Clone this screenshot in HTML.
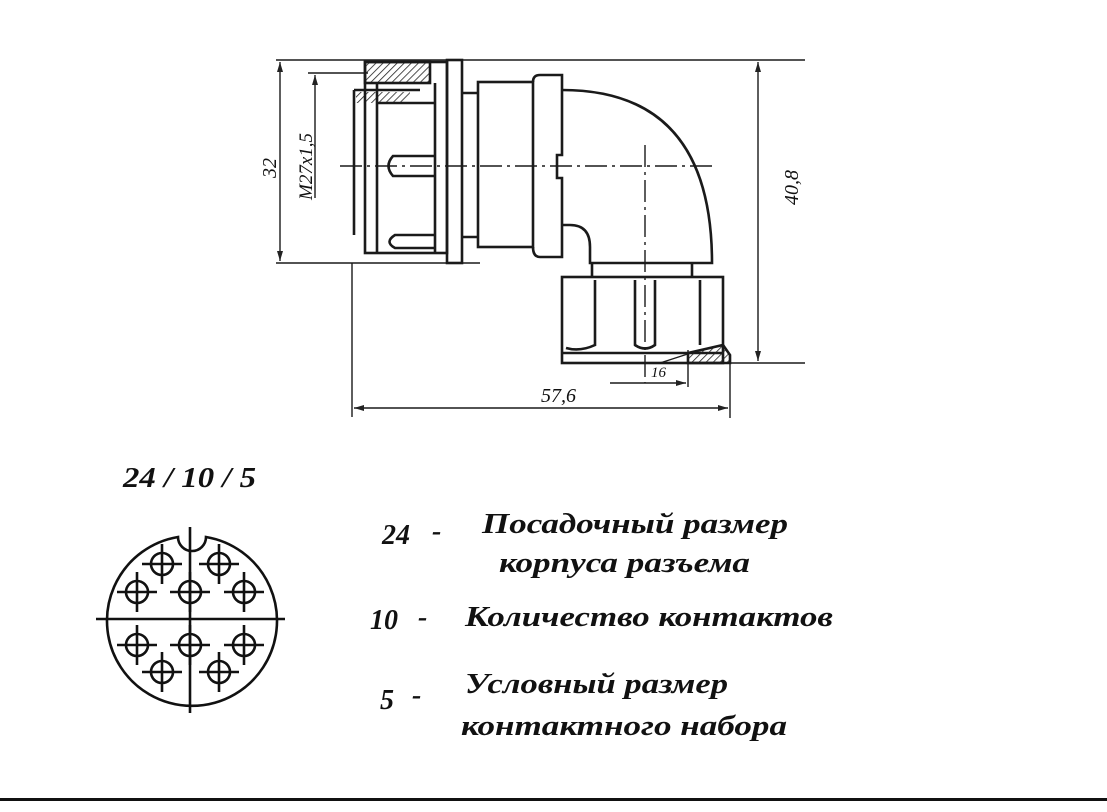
<!DOCTYPE html>
<html><head><meta charset="utf-8"><style>
html,body{margin:0;padding:0;background:#fff;width:1107px;height:812px;overflow:hidden}
svg{display:block}
.t{font-family:"Liberation Serif",serif;font-style:italic;font-weight:bold;fill:#111}
.d{font-family:"Liberation Serif",serif;font-style:italic;fill:#111}
</style></head><body>
<svg width="1107" height="812" viewBox="0 0 1107 812" xmlns="http://www.w3.org/2000/svg">
<defs>
<pattern id="h" width="5" height="5" patternUnits="userSpaceOnUse" patternTransform="rotate(45)">
<line x1="0" y1="0" x2="0" y2="5" stroke="#222" stroke-width="1.6"/></pattern>
<marker id="a" viewBox="0 0 10 6" refX="10" refY="3" markerWidth="11" markerHeight="6" orient="auto-start-reverse" markerUnits="userSpaceOnUse">
<path d="M0,0 L10,3 L0,6 z" fill="#222"/></marker>
<g id="c"><circle cx="0" cy="0" r="11"/><line x1="-20" y1="0" x2="20" y2="0"/><line x1="0" y1="-20" x2="0" y2="20"/></g>
</defs>
<g fill="none" stroke="#1a1a1a" stroke-width="2.6">
<g stroke-width="1.4">
<line x1="276" y1="60" x2="805" y2="60"/>
<line x1="276" y1="263" x2="480" y2="263"/>
<line x1="280" y1="62" x2="280" y2="261" marker-start="url(#a)" marker-end="url(#a)"/>
<line x1="308" y1="73" x2="368" y2="73"/>
<line x1="315" y1="75" x2="315" y2="198" marker-start="url(#a)"/>
<line x1="758" y1="62" x2="758" y2="361" marker-start="url(#a)" marker-end="url(#a)"/>
<line x1="723" y1="363" x2="805" y2="363"/>
<line x1="352" y1="263" x2="352" y2="417"/>
<line x1="730" y1="363" x2="730" y2="418"/>
<line x1="354" y1="408" x2="728" y2="408" marker-start="url(#a)" marker-end="url(#a)"/>
<line x1="688" y1="350" x2="688" y2="387"/>
<line x1="610" y1="383" x2="686" y2="383" marker-end="url(#a)"/>
<line x1="340" y1="166" x2="712" y2="166" stroke-dasharray="22,5,3,5"/>
<line x1="645" y1="145" x2="645" y2="383" stroke-dasharray="22,5,3,5"/>
</g>
<rect x="365" y="62" width="65" height="21" fill="url(#h)"/>
<path d="M354,90 L354,235 M354,90 L420,90"/>
<path d="M356,92 L410,92 Q410,103 395,103 L356,103 Z" fill="url(#h)" stroke="none"/>
<rect x="365" y="62" width="82" height="191"/>
<line x1="377" y1="83" x2="377" y2="253"/>
<line x1="435" y1="83" x2="435" y2="253"/>
<path d="M377,103 L435,103"/>
<path d="M435,156 L393,156 Q384,166 393,176 L435,176"/>
<path d="M435,235 L395,235 Q384,242 395,248 L435,248"/>
<rect x="447" y="60" width="15" height="203"/>
<path d="M462,93 L478,93 M462,237 L478,237"/>
<rect x="478" y="82" width="55" height="165"/>
<path d="M533,82 Q533,75 540,75 L562,75 L562,155 L557,155 L557,178 L562,178 L562,257 L540,257 Q533,257 533,247"/>
<path d="M562,90 Q712,90 712,263 L590,263 L590,247 Q590,225 570,225 L562,225"/>
<path d="M592,263 L592,277 M692,263 L692,277"/>
<rect x="562" y="277" width="161" height="86"/>
<path d="M562,353 L723,353"/>
<path d="M595,280 L595,345 Q580,352 566,348"/>
<path d="M635,280 L635,345 Q645,352 655,345 L655,280"/>
<path d="M700,280 L700,345"/>
<path d="M688,353 L723,345 L730,355 L730,363 L688,363 Z" fill="url(#h)"/>
<path d="M660,363 L700,350" stroke-width="1.2"/>
</g>
<text class="d" font-size="20" transform="translate(276,178) rotate(-90)">32</text>
<text class="d" font-size="19" transform="translate(312,200) rotate(-90)">M27x1,5</text>
<text class="d" font-size="20" transform="translate(798,205) rotate(-90)">40,8</text>
<text class="d" font-size="20" x="541" y="402">57,6</text>
<text class="d" font-size="15" x="651" y="377">16</text>

<g fill="none" stroke="#111" stroke-width="2.6">
<path d="M178,537 A85,85 0 1 0 206,537 A14,14 0 0 1 178,537 Z"/>
<line x1="190" y1="527" x2="190" y2="713"/>
<line x1="96" y1="619" x2="285" y2="619"/>
<use href="#c" x="162" y="564"/><use href="#c" x="219" y="564"/>
<use href="#c" x="137" y="592"/><use href="#c" x="190" y="592"/><use href="#c" x="244" y="592"/>
<use href="#c" x="137" y="645"/><use href="#c" x="190" y="645"/><use href="#c" x="244" y="645"/>
<use href="#c" x="162" y="672"/><use href="#c" x="219" y="672"/>
</g>

<text class="t" font-size="28" x="123" y="487" textLength="133" lengthAdjust="spacingAndGlyphs">24 / 10 / 5</text>
<text class="t" font-size="28" x="382" y="544">24</text><text class="t" font-size="28" x="432" y="540">-</text>
<text class="t" font-size="29" x="482" y="533" textLength="306" lengthAdjust="spacingAndGlyphs">Посадочный размер</text>
<text class="t" font-size="29" x="499" y="572" textLength="251" lengthAdjust="spacingAndGlyphs">корпуса разъема</text>
<text class="t" font-size="28" x="370" y="629">10</text><text class="t" font-size="28" x="418" y="626">-</text>
<text class="t" font-size="29" x="465" y="626" textLength="368" lengthAdjust="spacingAndGlyphs">Количество контактов</text>
<text class="t" font-size="28" x="380" y="709">5</text><text class="t" font-size="28" x="412" y="704">-</text>
<text class="t" font-size="29" x="465" y="693" textLength="263" lengthAdjust="spacingAndGlyphs">Условный размер</text>
<text class="t" font-size="29" x="461" y="735" textLength="326" lengthAdjust="spacingAndGlyphs">контактного набора</text>

<rect x="0" y="798" width="1107" height="3" fill="#111"/>
</svg>
</body></html>
